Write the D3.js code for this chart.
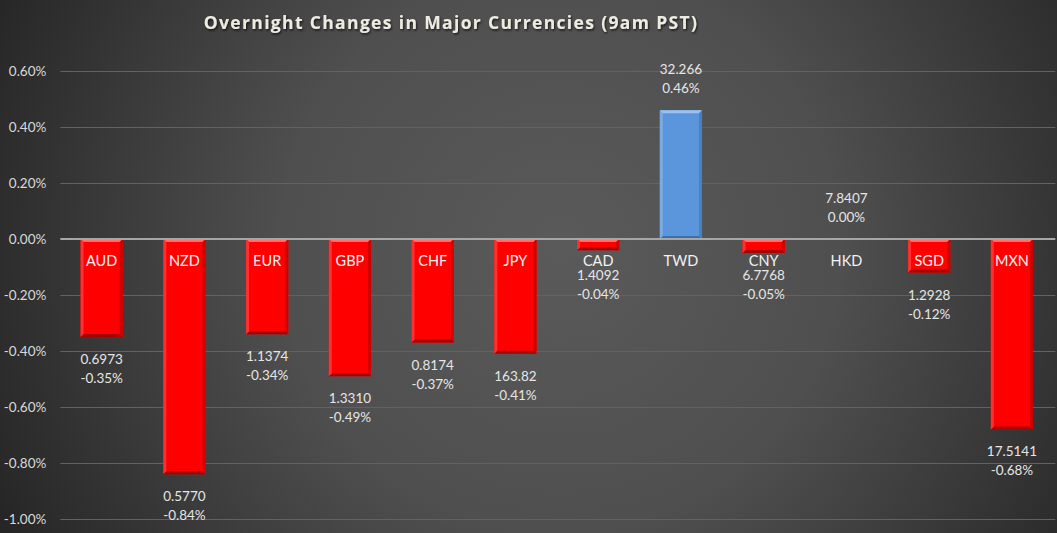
<!DOCTYPE html>
<html>
<head>
<meta charset="utf-8">
<script src="https://cdn.jsdelivr.net/npm/d3@7"></script>
<style>
  html, body { margin: 0; padding: 0; background: #333; }
  svg { display: block; }
</style>
</head>
<body>
<div class="canvas"></div>
<script>
// ====================== data =========================
const currencies = ["AUD","NZD","EUR","GBP","CHF","JPY","CAD","TWD","CNY","HKD","SGD","MXN"];
const changes = [-0.35,-0.84,-0.34,-0.49,-0.37,-0.41,-0.04,0.46,-0.05,0.00,-0.12,-0.68];
const rates = ["0.6973","0.5770","1.1374","1.3310","0.8174","163.82","1.4092","32.266","6.7768","7.8407","1.2928","17.5141"];
const yTicks = [0.6,0.4,0.2,0,-0.2,-0.4,-0.6,-0.8,-1.0];

const chartTitle = "Overnight Changes in Major Currencies (9am PST)";

// ====================== layout =========================
const svgWidth = 1057;
const svgHeight = 533;
const margin = {top: 71, right: 3.7, bottom: 14, left: 60.3};
const graphWidth = svgWidth - margin.left - margin.right;
const graphHeight = svgHeight - margin.top - margin.bottom;

const data = currencies.map((c, i) => ({name: c, value: changes[i], rate: rates[i]}));

// percent with a plain hyphen for the minus sign (like Excel)
const pct = d => (d3.format('.2f')(d) + '%').replace('\u2212', '-');

const svg = d3.select('.canvas')
  .append('svg')
    .attr('width', svgWidth)
    .attr('height', svgHeight);

const defs = svg.append('defs');

// dark radial background, lighter in the middle
const bg = defs.append('radialGradient')
  .attr('id', 'bgGrad')
  .attr('gradientUnits', 'userSpaceOnUse')
  .attr('cx', 560).attr('cy', 250).attr('r', 620);
bg.append('stop').attr('offset', '0%').attr('stop-color', '#5a5a5a');
bg.append('stop').attr('offset', '45%').attr('stop-color', '#4f4f4f');
bg.append('stop').attr('offset', '100%').attr('stop-color', '#262626');

// little shadow for the title
const shadow = defs.append('filter').attr('id', 'titleShadow')
  .attr('x', '-5%').attr('y', '-30%').attr('width', '110%').attr('height', '160%');
shadow.append('feDropShadow')
  .attr('dx', 1).attr('dy', 1.5).attr('stdDeviation', 1)
  .attr('flood-color', '#000').attr('flood-opacity', 0.7);

svg.append('rect')
  .attr('width', svgWidth)
  .attr('height', svgHeight)
  .attr('fill', 'url(#bgGrad)');

svg.append('text')
  .attr('x', 451)
  .attr('y', 29)
  .attr('text-anchor', 'middle')
  .attr('font-family', '"Open Sans", sans-serif')
  .attr('font-weight', 'bold')
  .attr('font-size', 17.5)
  .attr('letter-spacing', 1.35)
  .attr('fill', '#eeece1')
  .attr('filter', 'url(#titleShadow)')
  .text(chartTitle);

const graph = svg.append('g')
  .attr('transform', `translate(${margin.left},${margin.top})`);

// scales
const x = d3.scaleBand()
  .domain(currencies)
  .range([0, graphWidth])
  .paddingInner(0.49)
  .paddingOuter(0.245);

const y = d3.scaleLinear()
  .domain([-1.0, 0.6])
  .range([graphHeight, 0]);

// gridlines
graph.append('g')
  .selectAll('line')
  .data(yTicks.filter(t => t !== 0))
  .enter()
  .append('line')
    .attr('x1', 0)
    .attr('x2', graphWidth + 2)
    .attr('y1', d => Math.round(y(d)) + 0.5)
    .attr('y2', d => Math.round(y(d)) + 0.5)
    .attr('stroke', '#626262')
    .attr('stroke-width', 1);

// y axis labels
const yAxis = d3.axisLeft(y)
  .tickValues(yTicks)
  .tickSize(0)
  .tickPadding(14)
  .tickFormat(pct);

graph.append('g')
  .call(yAxis)
  .call(g => g.select('.domain').remove())
  .selectAll('text')
    .attr('font-family', 'Lato, sans-serif')
    .attr('font-size', 13.5)
    .attr('fill', '#d9d9d9');

// bars with a small bevel look
const bevel = 3;
const bars = graph.append('g')
  .selectAll('g')
  .data(data)
  .enter()
  .append('g');

const barTop = d => y(Math.max(0, d.value));
const barBot = d => y(Math.min(0, d.value));

bars.append('rect')
  .attr('x', d => x(d.name))
  .attr('y', barTop)
  .attr('width', x.bandwidth())
  .attr('height', d => barBot(d) - barTop(d))
  .attr('fill', d => d.value > 0 ? '#5b96dc' : '#ff0000');

// edges: top light, bottom dark, sides a touch darker
function edge(d, which) {
  const x0 = x(d.name), x1 = x0 + x.bandwidth();
  const y0 = barTop(d), y1 = barBot(d);
  const b = Math.min(bevel, (y1 - y0) / 2);
  if (which === 'top') return `M${x0},${y0}L${x1},${y0}L${x1-b},${y0+b}L${x0+b},${y0+b}Z`;
  if (which === 'bottom') return `M${x0},${y1}L${x1},${y1}L${x1-b},${y1-b}L${x0+b},${y1-b}Z`;
  if (which === 'left') return `M${x0},${y0}L${x0+b},${y0+b}L${x0+b},${y1-b}L${x0},${y1}Z`;
  return `M${x1},${y0}L${x1-b},${y0+b}L${x1-b},${y1-b}L${x1},${y1}Z`;
}

const edgeColors = {
  pos: {top: '#9cc3ef', bottom: '#3d6fa8', left: '#79abe6', right: '#4a80bf'},
  neg: {top: '#ff7070', bottom: '#a80000', left: '#ff3030', right: '#d00000'}
};

['top','bottom','left','right'].forEach(which => {
  bars.filter(d => d.value !== 0)
    .append('path')
      .attr('d', d => edge(d, which))
      .attr('fill', d => edgeColors[d.value > 0 ? 'pos' : 'neg'][which]);
});

// zero line
graph.append('line')
  .attr('x1', 0)
  .attr('x2', graphWidth + 2)
  .attr('y1', y(0))
  .attr('y2', y(0))
  .attr('stroke', '#a6a6a6')
  .attr('stroke-width', 2);

// category labels, sitting just under the zero line
const catBase = y(0) + 27;
bars.append('text')
  .attr('x', d => x(d.name) + x.bandwidth() / 2)
  .attr('y', catBase)
  .attr('text-anchor', 'middle')
  .attr('font-family', 'Lato, sans-serif')
  .attr('font-size', 14.5)
  .attr('fill', '#f2f2f2')
  .text(d => d.name);

// value labels: rate on first line, change on second
// (short negative bars push them below the category name)
const firstLine = d => d.value < 0 ? Math.max(barBot(d) + 27, catBase + 14) : barTop(d) - 36;

bars.append('text')
  .attr('x', d => x(d.name) + x.bandwidth() / 2)
  .attr('y', firstLine)
  .attr('text-anchor', 'middle')
  .attr('font-family', 'Lato, sans-serif')
  .attr('font-size', 13.5)
  .attr('fill', '#e6e6e6')
  .text(d => d.rate);

bars.append('text')
  .attr('x', d => x(d.name) + x.bandwidth() / 2)
  .attr('y', d => firstLine(d) + 19)
  .attr('text-anchor', 'middle')
  .attr('font-family', 'Lato, sans-serif')
  .attr('font-size', 13.5)
  .attr('fill', '#e6e6e6')
  .text(d => pct(d.value));
</script>
</body>
</html>
